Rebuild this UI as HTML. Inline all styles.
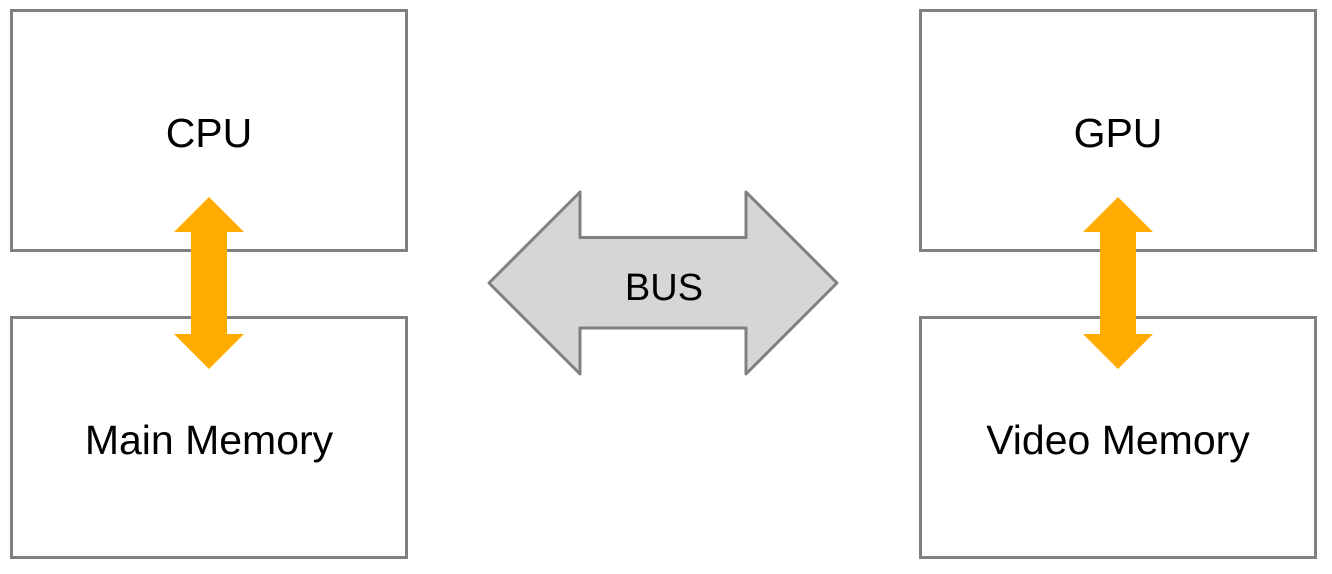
<!DOCTYPE html>
<html><head><meta charset="utf-8"><style>
html,body{margin:0;padding:0;background:#fff;}
svg{display:block;}
text{font-family:"Liberation Sans",sans-serif;font-size:41px;fill:#000;}
</style></head><body>
<svg width="1332" height="574" viewBox="0 0 1332 574" xmlns="http://www.w3.org/2000/svg">
<g fill="none" stroke="#808080" stroke-width="3">
<rect x="11.5" y="10.5" width="395" height="240"/>
<rect x="11.5" y="317.5" width="395" height="240"/>
<rect x="920.5" y="10.5" width="395" height="240"/>
<rect x="920.5" y="317.5" width="395" height="240"/>
</g>
<polygon points="209,197 244,232 227,232 227,334 244,334 209,369 174,334 191,334 191,232 174,232" fill="#ffab00"/>
<polygon points="1118,197 1153,232 1136,232 1136,334 1153,334 1118,369 1083,334 1100,334 1100,232 1083,232" fill="#ffab00"/>
<polygon points="489,283 580,192 580,237.5 746,237.5 746,192 837,283 746,374 746,328 580,328 580,374" fill="#d6d6d6" stroke="#808080" stroke-width="3" stroke-linejoin="round"/>
<text x="209" y="147" text-anchor="middle">CPU</text>
<text x="209" y="454" text-anchor="middle">Main Memory</text>
<text x="1118" y="147" text-anchor="middle">GPU</text>
<text x="1118" y="454" text-anchor="middle">Video Memory</text>
<text x="664" y="300" text-anchor="middle" style="font-size:38px">BUS</text>
</svg>
</body></html>
